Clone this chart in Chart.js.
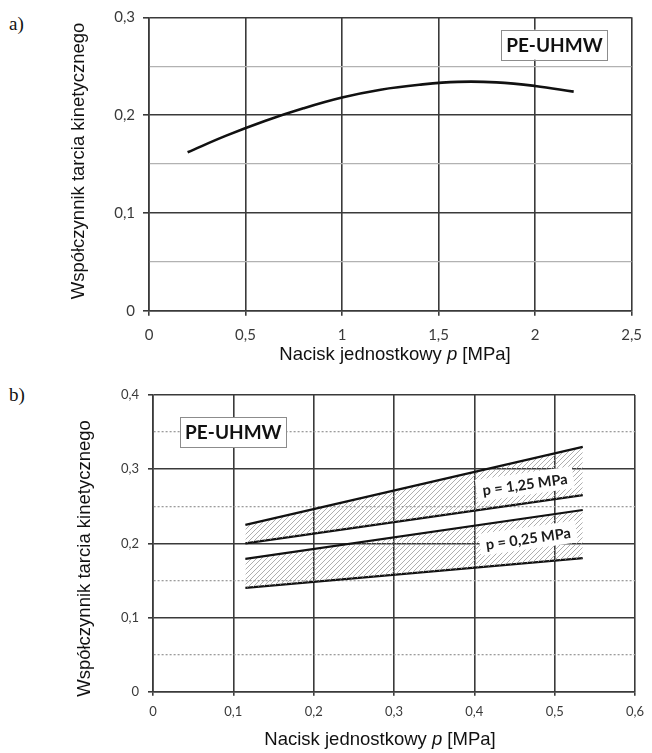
<!DOCTYPE html>
<html>
<head>
<meta charset="utf-8">
<script src="https://cdn.jsdelivr.net/npm/chart.js"></script>
<style>
body { margin: 0; background: #fff; }
#wrap { position: relative; width: 652px; height: 753px; overflow: hidden; }
canvas { position: absolute; left: 0; }
#chartA { top: 0; }
#chartB { top: 370px; }
.tag { position: absolute; font-family: "Liberation Serif", serif; font-size: 19px; color: #111; line-height: 22px; }
</style>
</head>
<body>
<div id="wrap">
  <div class="tag" style="left:9px;top:13px">a)</div>
  <div class="tag" style="left:9px;top:384px">b)</div>
  <canvas id="chartA" width="652" height="370"></canvas>
  <canvas id="chartB" width="652" height="383"></canvas>
</div>
<script>
// a) wspolczynnik tarcia vs nacisk
const pressureA = [0.2, 0.4, 0.6, 0.8, 1.0, 1.2, 1.4, 1.6, 1.8, 2.0, 2.2]
const frictionA = [0.162, 0.179, 0.194, 0.207, 0.218, 0.226, 0.231, 0.234, 0.2335, 0.2298, 0.224]
const xTicksA = ['0', '0,5', '1', '1,5', '2', '2,5']
const yTicksA = ['0', '0,1', '0,2', '0,3']

// b) two bands, each edge given by its start and end value
const pressureB = [0.115, 0.535]
const upper125 = [0.225, 0.330]
const lower125 = [0.200, 0.265]
const upper025 = [0.179, 0.245]
const lower025 = [0.140, 0.180]
const xTicksB = ['0', '0,1', '0,2', '0,3', '0,4', '0,5', '0,6']
const yTicksB = ['0', '0,1', '0,2', '0,3', '0,4']
const bandNames = ['p = 1,25 MPa', 'p = 0,25 MPa']
const bandNameX = [0.463, 0.467]
const bandNameY = [0.280, 0.207]

const material = 'PE-UHMW'
const xTitle = ['Nacisk jednostkowy ', 'p', ' [MPa]']
const yTitle = 'Współczynnik tarcia kinetycznego'

const dark = '#3a3a3a'

function pts(xs, ys) {
  return xs.map((x, i) => ({ x: x, y: ys[i] }))
}

function isMinor(v) {
  return Math.round(v * 100) % 10 !== 0
}

// diagonal hatching for the bands
function hatch() {
  const c = document.createElement('canvas')
  c.width = 5; c.height = 5
  const g = c.getContext('2d')
  g.strokeStyle = '#9a9a9a'
  g.lineWidth = 0.8
  g.beginPath()
  g.moveTo(0, 5); g.lineTo(5, 0)
  g.moveTo(-1, 1); g.lineTo(1, -1)
  g.moveTo(4, 6); g.lineTo(6, 4)
  g.stroke()
  return g.createPattern(c, 'repeat')
}

function axes(o) {
  return {
    x: {
      type: 'linear', min: 0, max: o.xMax,
      afterFit: s => { s.height = o.xHeight },
      ticks: {
        stepSize: o.xStep, autoSkip: false, maxRotation: 0, padding: o.xPad,
        color: '#3a3a3a', font: { family: 'Lato', size: o.tickSize },
        callback: v => o.xLabels[Math.round(v / o.xStep)]
      },
      grid: { color: dark, lineWidth: 1.6, tickLength: o.xTick, tickColor: dark },
      border: { color: dark, width: 1.6 }
    },
    y: {
      type: 'linear', min: 0, max: o.yMax,
      afterFit: s => { s.width = o.yWidth },
      ticks: {
        stepSize: 0.05, autoSkip: false, padding: o.yPad,
        color: '#3a3a3a', font: { family: 'Lato', size: o.tickSize },
        callback: v => isMinor(v) ? '' : o.yLabels[Math.round(v * 10)]
      },
      grid: {
        color: c => (c.tick && isMinor(c.tick.value)) ? o.minorColor : dark,
        lineWidth: c => (c.tick && isMinor(c.tick.value)) ? o.minorWidth : 1.6,
        tickLength: o.yTick,
        tickColor: c => (c.tick && isMinor(c.tick.value)) ? 'rgba(0,0,0,0)' : dark
      },
      border: {
        color: dark, width: 1.6,
        dash: c => (c.tick && isMinor(c.tick.value)) ? o.minorDash : []
      }
    }
  }
}

// axis titles, material box and band names
const notes = {
  id: 'notes',
  afterDraw(chart, args, o) {
    const ctx = chart.ctx
    const sx = chart.scales.x, sy = chart.scales.y
    ctx.save()
    ctx.fillStyle = '#111'
    ctx.textBaseline = 'middle'

    // x title with italic p
    const fonts = ['18.5px "Liberation Sans"', 'italic 18.5px "Liberation Sans"', '18.5px "Liberation Sans"']
    let total = 0
    const widths = xTitle.map((t, i) => { ctx.font = fonts[i]; const w = ctx.measureText(t).width; total += w; return w })
    let x = o.xTitle[0] - total / 2
    ctx.textAlign = 'left'
    xTitle.forEach((t, i) => { ctx.font = fonts[i]; ctx.fillText(t, x, o.xTitle[1]); x += widths[i] })

    // y title
    ctx.save()
    ctx.translate(o.yTitle[0], o.yTitle[1])
    ctx.rotate(-Math.PI / 2)
    ctx.textAlign = 'center'
    ctx.font = '18.5px "Liberation Sans"'
    ctx.fillText(yTitle, 0, 0)
    ctx.restore()

    // material box
    const bx = sx.getPixelForValue(o.box[0])
    const by = sy.getPixelForValue(o.box[1])
    ctx.font = 'bold 19px Lato'
    const bw = ctx.measureText(material).width + 10
    ctx.fillStyle = '#fff'
    ctx.fillRect(bx - bw / 2, by - 15, bw, 30)
    ctx.strokeStyle = '#8c8c8c'
    ctx.lineWidth = 1
    ctx.strokeRect(Math.round(bx - bw / 2) + 0.5, Math.round(by - 15) + 0.5, Math.round(bw), 30)
    ctx.fillStyle = '#111'
    ctx.textAlign = 'center'
    ctx.fillText(material, bx, by + 1)

    // band names along the lines
    if (o.bands) {
      ctx.font = 'bold 14.5px Lato'
      bandNames.forEach((t, i) => {
        const px = sx.getPixelForValue(bandNameX[i])
        const py = sy.getPixelForValue(bandNameY[i])
        const w = ctx.measureText(t).width
        ctx.save()
        ctx.translate(px, py)
        ctx.rotate(-8 * Math.PI / 180)
        ctx.fillStyle = '#fff'
        ctx.fillRect(-w / 2 - 6, -11, w + 12, 22)
        ctx.fillStyle = '#1a1a1a'
        ctx.fillText(t, 0, 1)
        ctx.restore()
      })
    }
    ctx.restore()
  }
}

new Chart(document.getElementById('chartA'), {
  type: 'line',
  data: {
    datasets: [{
      data: pts(pressureA, frictionA),
      borderColor: '#111',
      borderWidth: 2.6,
      pointRadius: 0,
      tension: 0.4,
      fill: false
    }]
  },
  options: {
    responsive: false,
    animation: false,
    devicePixelRatio: 1,
    layout: { padding: { top: 17.3, right: 18, bottom: 0, left: 0 } },
    plugins: {
      legend: { display: false },
      tooltip: { enabled: false },
      notes: { xTitle: [395, 355], yTitle: [79, 161], box: [2.1, 0.272], bands: false }
    },
    scales: axes({
      xMax: 2.5, xStep: 0.5, xLabels: xTicksA, yMax: 0.3, yLabels: yTicksA,
      xHeight: 59.3, yWidth: 149, xPad: 10, yPad: 8, xTick: 5, yTick: 6, tickSize: 15,
      minorColor: '#b2b2b2', minorWidth: 1.3, minorDash: []
    })
  },
  plugins: [notes]
})

const pattern = hatch()

new Chart(document.getElementById('chartB'), {
  type: 'line',
  data: {
    datasets: [
      { data: pts(pressureB, upper125), fill: '+1', backgroundColor: pattern },
      { data: pts(pressureB, lower125), fill: false },
      { data: pts(pressureB, upper025), fill: '+1', backgroundColor: pattern },
      { data: pts(pressureB, lower025), fill: false }
    ]
  },
  options: {
    responsive: false,
    animation: false,
    devicePixelRatio: 1,
    layout: { padding: { top: 25, right: 13, bottom: 0, left: 0 } },
    elements: {
      line: { borderColor: '#111', borderWidth: 2.2, tension: 0 },
      point: { radius: 0 }
    },
    plugins: {
      legend: { display: false },
      tooltip: { enabled: false },
      notes: { xTitle: [380, 370], yTitle: [85, 188.5], box: [0.1, 0.35], bands: true }
    },
    scales: axes({
      xMax: 0.6, xStep: 0.1, xLabels: xTicksB, yMax: 0.4, yLabels: yTicksB,
      xHeight: 61.3, yWidth: 153, xPad: 8, yPad: 9, xTick: 4, yTick: 5, tickSize: 13,
      minorColor: '#9c9c9c', minorWidth: 1.3, minorDash: [2, 2]
    })
  },
  plugins: [notes]
})
</script>
</body>
</html>
